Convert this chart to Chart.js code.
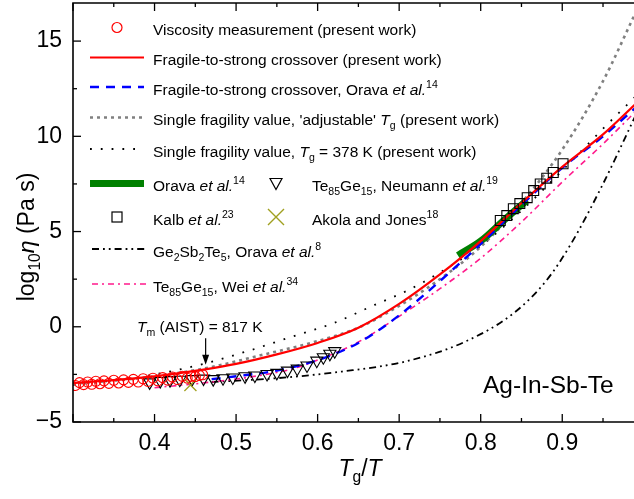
<!DOCTYPE html>
<html>
<head>
<meta charset="utf-8">
<script src="https://cdn.jsdelivr.net/npm/chart.js@4.4.1/dist/chart.umd.min.js"></script>
<style>
  html, body { margin: 0; padding: 0; background: #fff; }
</style>
</head>
<body>
<canvas id="myChart" width="634" height="499"></canvas>
<script>
  // dados (Tg/T, log10 eta)
  const viscX = [0.303,0.308,0.313,0.318,0.323,0.328,0.333,0.338,0.344,0.350,0.356,0.362,0.368,0.374,0.380,0.386,0.392,0.398,0.404,0.410,0.416,0.422,0.428,0.434,0.440,0.445,0.450,0.455,0.459];
  const viscY = [-3.08,-2.93,-3.04,-2.9,-3.02,-2.86,-2.99,-2.84,-2.97,-2.81,-2.95,-2.79,-2.92,-2.76,-2.9,-2.73,-2.87,-2.7,-2.84,-2.67,-2.8,-2.64,-2.77,-2.6,-2.7,-2.6,-2.62,-2.55,-2.52];

  const fscX = [0.30,0.35,0.40,0.46,0.50,0.55,0.60,0.65,0.70,0.75,0.80,0.85,0.90,0.95,0.99];
  const fscY = [-2.95,-2.8,-2.6,-2.25,-1.95,-1.45,-0.85,-0.05,1.2,2.75,4.5,6.5,8.4,10.1,11.7];

  const oravaFscX = [0.47,0.50,0.55,0.60,0.65,0.70,0.75,0.80,0.85,0.90,0.95,0.99];
  const oravaFscY = [-2.75,-2.6,-2.3,-1.75,-0.85,0.6,2.4,4.35,6.4,8.35,10.0,11.5];

  const adjTgX = [0.30,0.38,0.46,0.53,0.60,0.65,0.70,0.75,0.80,0.85,0.90,0.95,0.99];
  const adjTgY = [-3.0,-2.7,-2.2,-1.5,-0.75,-0.05,1.1,2.5,4.2,6.5,9.3,12.9,16.5];

  const tg378X = [0.30,0.38,0.46,0.52,0.57,0.62,0.67,0.71,0.75,0.80,0.85,0.90,0.95,0.99];
  const tg378Y = [-3.05,-2.65,-1.95,-1.2,-0.5,0.2,1.15,1.9,2.85,4.25,6.1,8.2,10.4,12.1];

  const oravaX = [0.772,0.80,0.83,0.857];
  const oravaY = [3.75,4.5,5.65,6.65];

  const neumannX = [0.394,0.407,0.419,0.431,0.446,0.460,0.472,0.484,0.496,0.511,0.523,0.538,0.550,0.563,0.575,0.587,0.599,0.607,0.615,0.621];
  const neumannY = [-2.92,-2.85,-2.8,-2.78,-2.75,-2.72,-2.75,-2.7,-2.66,-2.6,-2.56,-2.48,-2.42,-2.3,-2.2,-2.03,-1.78,-1.6,-1.42,-1.28];

  const kalbX = [0.824,0.832,0.840,0.848,0.857,0.865,0.873,0.881,0.889,0.901];
  const kalbY = [5.58,5.84,6.2,6.47,6.78,7.15,7.5,7.8,8.1,8.56];

  const akolaX = [0.444];
  const akolaY = [-3.06];

  const gstX = [0.47,0.55,0.63,0.71,0.78,0.84,0.88,0.91,0.95,0.99];
  const gstY = [-2.9,-2.7,-2.35,-1.8,-0.8,0.7,2.4,4.3,7.5,11.1];

  const weiX = [0.40,0.47,0.53,0.57,0.60,0.65,0.70,0.75,0.80,0.85,0.90,0.95,0.99];
  const weiY = [-3.2,-2.9,-2.55,-2.2,-1.75,-0.8,0.55,2.0,3.6,5.5,7.6,9.6,11.3];

  const tmX = 378 / 817; // Tg/Tm
  const tmLabel = [['T', 'i'], ['m', 'sub'], [' (AIST) = 817 K', '']];
  const alloyLabel = 'Ag-In-Sb-Te';

  // legenda: [texto, estilo]
  const legendTexts = [
    [['Viscosity measurement (present work)', '']],
    [['Fragile-to-strong crossover (present work)', '']],
    [['Fragile-to-strong crossover, Orava ', ''], ['et al.', 'i'], ['14', 'sup']],
    [['Single fragility value, \'adjustable\' ', ''], ['T', 'i'], ['g', 'sub'], [' (present work)', '']],
    [['Single fragility value, ', ''], ['T', 'i'], ['g', 'sub'], [' = 378 K (present work)', '']],
    [['Orava ', ''], ['et al.', 'i'], ['14', 'sup']],
    [['Te', ''], ['85', 'sub'], ['Ge', ''], ['15', 'sub'], [', Neumann ', ''], ['et al.', 'i'], ['19', 'sup']],
    [['Kalb ', ''], ['et al.', 'i'], ['23', 'sup']],
    [['Akola and Jones', ''], ['18', 'sup']],
    [['Ge', ''], ['2', 'sub'], ['Sb', ''], ['2', 'sub'], ['Te', ''], ['5', 'sub'], [', Orava ', ''], ['et al.', 'i'], ['8', 'sup']],
    [['Te', ''], ['85', 'sub'], ['Ge', ''], ['15', 'sub'], [', Wei ', ''], ['et al.', 'i'], ['34', 'sup']]
  ];
  const legendMarks = ['circle', 'red', 'blue', 'gray', 'dot', 'green', 'tri', 'square', 'cross', 'gst', 'wei'];
  const legendCol = [0, 0, 0, 0, 0, 0, 1, 0, 1, 0, 0];
  const legendRow = [0, 1, 2, 3, 4, 5, 5, 6, 6, 7, 8];

  const FONT = '"Liberation Sans", Arial, sans-serif';
  const OLIVE = '#a0a020';
  const PINK = '#ff1a8c';

  function pts(xs, ys) {
    return xs.map((x, i) => ({ x: x, y: ys[i] }));
  }

  function drawRich(ctx, x, y, parts, size, align) {
    const fontFor = (st) => {
      if (st === 'sub' || st === 'sup') return (size * 0.68) + 'px ' + FONT;
      if (st === 'i') return 'italic ' + size + 'px ' + FONT;
      return size + 'px ' + FONT;
    };
    let total = 0;
    parts.forEach(p => { ctx.font = fontFor(p[1]); total += ctx.measureText(p[0]).width; });
    let cx = align === 'center' ? x - total / 2 : x;
    ctx.textAlign = 'left';
    ctx.textBaseline = 'alphabetic';
    parts.forEach(p => {
      ctx.font = fontFor(p[1]);
      let dy = 0;
      if (p[1] === 'sub') dy = size * 0.28;
      if (p[1] === 'sup') dy = -size * 0.42;
      ctx.fillText(p[0], cx, y + dy);
      cx += ctx.measureText(p[0]).width;
    });
  }

  function strokeSeg(ctx, x1, x2, y, color, width, dash) {
    ctx.save();
    ctx.strokeStyle = color;
    ctx.lineWidth = width;
    ctx.setLineDash(dash);
    ctx.beginPath();
    ctx.moveTo(x1, y);
    ctx.lineTo(x2, y);
    ctx.stroke();
    ctx.restore();
  }

  const extras = {
    id: 'extras',
    afterDraw(chart) {
      const ctx = chart.ctx;
      const a = chart.chartArea;
      const xs = chart.scales.x;
      const ys = chart.scales.y;
      ctx.save();
      ctx.fillStyle = '#000';
      ctx.strokeStyle = '#000';

      // eixos
      ctx.lineWidth = 1.6;
      ctx.beginPath();
      ctx.moveTo(a.right + 2, a.top);
      ctx.lineTo(a.left, a.top);
      ctx.lineTo(a.left, a.bottom);
      ctx.lineTo(a.right + 2, a.bottom);
      ctx.stroke();

      // ticks para dentro (maior + menor)
      ctx.lineWidth = 1.3;
      const xt = xs.ticks.map(t => t.value);
      const xAll = [];
      xt.forEach(v => { xAll.push([v, 8]); xAll.push([v + 0.05, 4]); });
      xAll.forEach(([v, len]) => {
        if (v > xs.max + 1e-9) return;
        const px = xs.getPixelForValue(v);
        ctx.beginPath();
        ctx.moveTo(px, a.bottom); ctx.lineTo(px, a.bottom - len);
        ctx.moveTo(px, a.top); ctx.lineTo(px, a.top + len);
        ctx.stroke();
      });
      const yt = ys.ticks.map(t => t.value);
      const yAll = [];
      yt.forEach(v => { yAll.push([v, 8]); yAll.push([v + 2.5, 4]); });
      yAll.forEach(([v, len]) => {
        if (v > ys.max + 1e-9) return;
        const py = ys.getPixelForValue(v);
        ctx.beginPath();
        ctx.moveTo(a.left, py); ctx.lineTo(a.left + len, py);
        ctx.stroke();
      });

      // titulos dos eixos
      drawRich(ctx, 360, 476, [['T', 'i'], ['g', 'sub'], ['/', ''], ['T', 'i']], 23, 'center');
      ctx.save();
      ctx.translate(34, 237);
      ctx.rotate(-Math.PI / 2);
      drawRich(ctx, 0, 0, [['log', ''], ['10', 'sub'], ['\u03b7', 'i'], [' (Pa s)', '']], 23, 'center');
      ctx.restore();

      // legenda
      const rowY = [29.5, 59.5, 89, 119.5, 151, 185.5, 219, 251, 286];
      const markX = [117, 276];
      const textX = [153, 312];
      legendTexts.forEach((parts, i) => {
        const cy = rowY[legendRow[i]];
        const col = legendCol[i];
        const mx = markX[col];
        const my = cy - 2;
        const m = legendMarks[i];
        ctx.save();
        if (m === 'circle') {
          ctx.strokeStyle = 'red'; ctx.lineWidth = 1.2;
          ctx.beginPath(); ctx.arc(mx, my, 5, 0, Math.PI * 2); ctx.stroke();
        } else if (m === 'red') {
          strokeSeg(ctx, 90, 144, my, 'red', 2.2, []);
        } else if (m === 'blue') {
          strokeSeg(ctx, 90, 144, my, 'blue', 2.4, [9, 7]);
        } else if (m === 'gray') {
          strokeSeg(ctx, 90, 144, my, '#808080', 2.6, [3, 4]);
        } else if (m === 'dot') {
          strokeSeg(ctx, 90, 144, my, '#000', 1.8, [1.8, 9]);
        } else if (m === 'green') {
          strokeSeg(ctx, 90, 144, my, '#008000', 7, []);
        } else if (m === 'tri') {
          ctx.strokeStyle = '#000'; ctx.lineWidth = 1.2;
          ctx.beginPath();
          ctx.moveTo(mx - 6, my - 5); ctx.lineTo(mx + 6, my - 5); ctx.lineTo(mx, my + 6); ctx.closePath();
          ctx.stroke();
        } else if (m === 'square') {
          ctx.strokeStyle = '#000'; ctx.lineWidth = 1.2;
          ctx.strokeRect(mx - 5, my - 5, 10, 10);
        } else if (m === 'cross') {
          ctx.strokeStyle = OLIVE; ctx.lineWidth = 1.4;
          ctx.beginPath();
          ctx.moveTo(mx - 8, my - 8); ctx.lineTo(mx + 8, my + 8);
          ctx.moveTo(mx + 8, my - 8); ctx.lineTo(mx - 8, my + 8);
          ctx.stroke();
        } else if (m === 'gst') {
          strokeSeg(ctx, 92, 147, my, '#000', 1.8, [7, 4, 1.8, 4, 1.8, 4]);
        } else if (m === 'wei') {
          strokeSeg(ctx, 92, 147, my, PINK, 1.6, [6, 4, 2, 4]);
        }
        ctx.restore();
        ctx.fillStyle = '#000';
        drawRich(ctx, textX[col], cy + 5.5, parts, 15.5, 'left');
      });

      // anotacao Tm
      const ax = xs.getPixelForValue(tmX);
      const ay1 = ys.getPixelForValue(-0.6);
      const ay2 = ys.getPixelForValue(-2.0);
      ctx.lineWidth = 1.2;
      ctx.beginPath(); ctx.moveTo(ax, ay1); ctx.lineTo(ax, ay2 - 8); ctx.stroke();
      ctx.beginPath();
      ctx.moveTo(ax - 3.5, ay2 - 10); ctx.lineTo(ax + 3.5, ay2 - 10); ctx.lineTo(ax, ay2); ctx.closePath();
      ctx.fill();
      drawRich(ctx, 137, 332, tmLabel, 15.5, 'left');

      ctx.font = '24.5px ' + FONT;
      ctx.textAlign = 'left';
      ctx.textBaseline = 'alphabetic';
      ctx.fillText(alloyLabel, 483, 393);
      ctx.restore();
    }
  };

  const lineBase = { showLine: true, pointRadius: 0, fill: false, cubicInterpolationMode: 'monotone' };

  const datasets = [
    { label: 'visc', data: pts(viscX, viscY), pointStyle: 'circle', pointRadius: 5, borderColor: 'red', backgroundColor: 'transparent', borderWidth: 1.1, order: 1 },
    { label: 'akola', data: pts(akolaX, akolaY), pointStyle: 'crossRot', pointRadius: 8.5, borderColor: OLIVE, borderWidth: 1.3, order: 2 },
    { label: 'neumann', data: pts(neumannX, neumannY), pointStyle: 'triangle', rotation: 180, pointRadius: 7, borderColor: '#000', backgroundColor: 'transparent', borderWidth: 1.1, order: 3 },
    { label: 'kalb', data: pts(kalbX, kalbY), pointStyle: 'rect', pointRadius: 7, borderColor: '#000', backgroundColor: 'transparent', borderWidth: 1.1, order: 4 },
    Object.assign({ label: 'fsc', data: pts(fscX, fscY), borderColor: 'red', borderWidth: 2.2, order: 5 }, lineBase),
    Object.assign({ label: 'oravaFsc', data: pts(oravaFscX, oravaFscY), borderColor: 'blue', borderWidth: 2.4, borderDash: [9, 7], order: 6 }, lineBase),
    Object.assign({ label: 'orava', data: pts(oravaX, oravaY), borderColor: '#008000', borderWidth: 7, order: 7 }, lineBase),
    Object.assign({ label: 'adjTg', data: pts(adjTgX, adjTgY), borderColor: '#808080', borderWidth: 2.6, borderDash: [3, 4], order: 8 }, lineBase),
    Object.assign({ label: 'tg378', data: pts(tg378X, tg378Y), borderColor: '#000', borderWidth: 1.8, borderDash: [1.8, 9], order: 9 }, lineBase),
    Object.assign({ label: 'wei', data: pts(weiX, weiY), borderColor: PINK, borderWidth: 1.6, borderDash: [6, 4, 2, 4], order: 10 }, lineBase),
    Object.assign({ label: 'gst', data: pts(gstX, gstY), borderColor: '#000', borderWidth: 1.8, borderDash: [7, 4, 1.8, 4, 1.8, 4], order: 11 }, lineBase)
  ];

  const config = {
    type: 'scatter',
    data: { datasets: datasets },
    options: {
      responsive: false,
      animation: false,
      devicePixelRatio: 1,
      layout: { autoPadding: false, padding: { top: 3, right: 0, left: 0, bottom: 0 } },
      plugins: { legend: { display: false }, tooltip: { enabled: false } },
      scales: {
        x: {
          type: 'linear',
          min: 0.3,
          max: 0.988,
          // tamanho fixo e sem padding extra dos rotulos
          afterFit: (s) => { s.height = 77; s.paddingLeft = 0; s.paddingRight = 0; },
          border: { display: false },
          grid: { display: false, drawTicks: false },
          ticks: {
            stepSize: 0.1,
            includeBounds: false,
            padding: 8,
            color: '#000',
            font: { family: FONT, size: 23 },
            maxRotation: 0,
            autoSkip: false,
            callback: (v) => (Math.abs(v - 0.3) < 1e-6 ? '' : Number(v).toFixed(1))
          }
        },
        y: {
          type: 'linear',
          min: -5,
          max: 17,
          afterFit: (s) => { s.width = 73; s.paddingTop = 0; s.paddingBottom = 0; },
          border: { display: false },
          grid: { display: false, drawTicks: false },
          ticks: {
            stepSize: 5,
            includeBounds: false,
            padding: 11,
            color: '#000',
            font: { family: FONT, size: 23 },
            callback: (v) => (v < 0 ? '\u2212' + Math.abs(v) : String(v))
          }
        }
      }
    },
    plugins: [extras]
  };

  window.myChart = new Chart(document.getElementById('myChart').getContext('2d'), config);
</script>
</body>
</html>
